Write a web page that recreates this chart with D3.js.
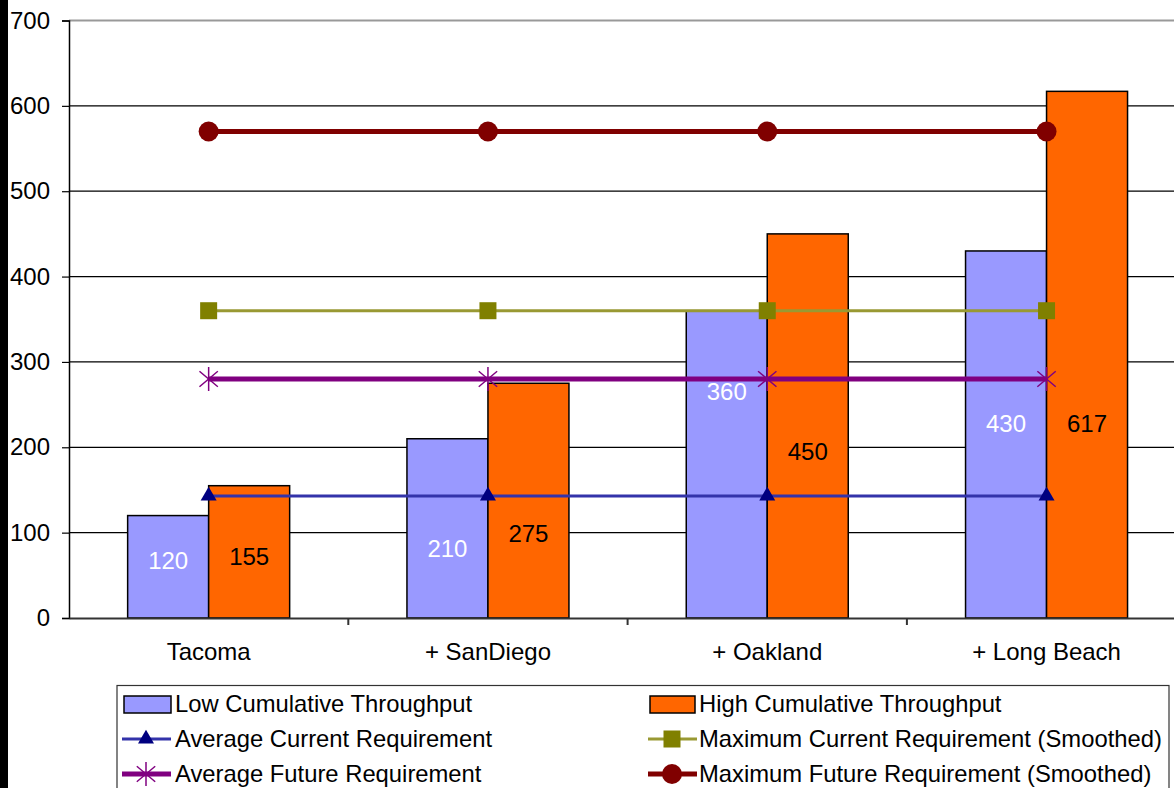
<!DOCTYPE html>
<html><head><meta charset="utf-8">
<script src="https://cdn.jsdelivr.net/npm/d3@7"></script>
<style>body{margin:0;background:#fff;} svg{display:block;font-family:"Liberation Sans",Arial,sans-serif;}</style>
</head><body>
<svg id="c" width="1174" height="788"></svg>
<script>
const categories = ["Tacoma", "+ SanDiego", "+ Oakland", "+ Long Beach"];
const lowThroughput = [120, 210, 360, 430];
const highThroughput = [155, 275, 450, 617];
const lowLabelAt = [67, 81, 265, 227];
const highLabelAt = [71, 98, 195, 227];
const avgCurrent = [143, 143, 143, 143];
const maxCurrent = [360, 360, 360, 360];
const avgFuture = [280, 280, 280, 280];
const maxFuture = [570, 570, 570, 570];
const yTicks = [0, 100, 200, 300, 400, 500, 600, 700];

const svg = d3.select("#c");
svg.append("rect").attr("x",0).attr("y",0).attr("width",8).attr("height",788).attr("fill","#000");

const pLeft = 69, pTop = 20.5, pBottom = 618, pRight = 69 + 4*279.3;
const x = d3.scaleBand().domain(categories).range([pLeft, pRight]).paddingInner(0).paddingOuter(0);
const y = d3.scaleLinear().domain([0, 700]).range([pBottom, pTop]);
const cx = c => x(c) + x.bandwidth()/2;
const barW = 81;
const FONT = "Liberation Sans, Arial, sans-serif";

// gridlines
svg.append("g").selectAll("line").data(yTicks.filter(t=>t>0)).join("line")
  .attr("x1", pLeft).attr("x2", 1174).attr("y1", d=>y(d)).attr("y2", d=>y(d))
  .attr("stroke", d => d===700 ? "#999" : "#000").attr("stroke-width", d=>d===700?2:1.2);

// y axis
const yAx = svg.append("g").attr("transform", `translate(${pLeft},0)`)
  .call(d3.axisLeft(y).tickValues(yTicks).tickSize(7).tickPadding(4));
yAx.select(".domain").attr("stroke","#000").attr("stroke-width",1.5);
yAx.selectAll(".tick line").attr("stroke","#000").attr("stroke-width",1.2);
yAx.selectAll("text").attr("font-size",24).attr("fill","#000").attr("font-family",FONT).attr("x",-19);

// bars
const bars = svg.append("g");
bars.selectAll("rect.low").data(categories).join("rect").attr("class","low")
  .attr("x", d=>cx(d)-barW).attr("width", barW)
  .attr("y", (d,i)=>y(lowThroughput[i])).attr("height", (d,i)=>pBottom - y(lowThroughput[i]))
  .attr("fill","#9999ff").attr("stroke","#000").attr("stroke-width",1.5);
bars.selectAll("rect.high").data(categories).join("rect").attr("class","high")
  .attr("x", d=>cx(d)).attr("width", barW)
  .attr("y", (d,i)=>y(highThroughput[i])).attr("height", (d,i)=>pBottom - y(highThroughput[i]))
  .attr("fill","#ff6600").attr("stroke","#000").attr("stroke-width",1.5);

// x axis
const xAx = svg.append("g").attr("transform", `translate(0,${pBottom})`)
  .call(d3.axisBottom(x).tickSize(0).tickPadding(25));
xAx.select(".domain").attr("stroke","#333").attr("stroke-width",2);
xAx.selectAll("text").attr("font-size",24).attr("fill","#000").attr("font-family",FONT);
svg.append("g").selectAll("line").data(categories.slice(1)).join("line")
  .attr("x1", d=>x(d)).attr("x2", d=>x(d)).attr("y1", pBottom).attr("y2", pBottom+7)
  .attr("stroke","#333").attr("stroke-width",2);

// lines
const line = d3.line().x(d=>cx(d[0])).y(d=>y(d[1]));
const series = [
  {vals: avgCurrent, color: "#3333aa", width: 3, marker: "triangle", mcolor: "#000080"},
  {vals: maxCurrent, color: "#999933", width: 3, marker: "square", mcolor: "#808000"},
  {vals: avgFuture, color: "#800080", width: 5, marker: "star", mcolor: "#800080"},
  {vals: maxFuture, color: "#800000", width: 5, marker: "circle", mcolor: "#800000"}
];
function drawMarker(g, type, color, px, py, s) {
  if (type === "triangle") {
    g.append("path").attr("d", d3.symbol(d3.symbolTriangle, s*s*0.433)()).attr("transform",`translate(${px},${py})`).attr("fill",color);
  } else if (type === "square") {
    g.append("rect").attr("x",px-s/2).attr("y",py-s/2).attr("width",s).attr("height",s).attr("fill",color);
  } else if (type === "circle") {
    g.append("circle").attr("cx",px).attr("cy",py).attr("r",s/2).attr("fill",color);
  } else if (type === "star") {
    const r = s/2, dx = r*Math.cos(40*Math.PI/180), dy = r*Math.sin(40*Math.PI/180);
    g.append("line").attr("x1",px-dx).attr("y1",py-dy).attr("x2",px+dx).attr("y2",py+dy).attr("stroke",color).attr("stroke-width",1.5);
    g.append("line").attr("x1",px-dx).attr("y1",py+dy).attr("x2",px+dx).attr("y2",py-dy).attr("stroke",color).attr("stroke-width",1.5);
    g.append("line").attr("x1",px).attr("y1",py-r).attr("x2",px).attr("y2",py+r).attr("stroke",color).attr("stroke-width",1.5);
  }
}
const markerSize = {triangle: 16, square: 17, star: 24, circle: 20};
series.forEach(s=>{
  const g = svg.append("g");
  g.append("path").datum(categories.map((c,i)=>[c, s.vals[i]])).attr("d", line)
    .attr("fill","none").attr("stroke", s.color).attr("stroke-width", s.width);
  categories.forEach((c,i)=>drawMarker(g, s.marker, s.mcolor, cx(c), y(s.vals[i]), markerSize[s.marker]));
});

// labels
const lbl = svg.append("g").attr("font-size",24).attr("text-anchor","middle");
categories.forEach((c,i)=>{
  lbl.append("text").attr("x", cx(c)-barW/2).attr("y", y(lowLabelAt[i])+8).attr("fill","#fff").text(lowThroughput[i]);
  lbl.append("text").attr("x", cx(c)+barW/2).attr("y", y(highLabelAt[i])+8).attr("fill","#000").text(highThroughput[i]);
});

// legend
const lg = svg.append("g");
lg.append("rect").attr("x",117).attr("y",685.5).attr("width",1052).attr("height",110).attr("fill","#fff").attr("stroke","#333").attr("stroke-width",1.2);
const legendItems = [
  {label:"Low Cumulative Throughput", type:"bar", fill:"#9999ff"},
  {label:"High Cumulative Throughput", type:"bar", fill:"#ff6600"},
  {label:"Average Current Requirement", type:"line", s: series[0]},
  {label:"Maximum Current Requirement (Smoothed)", type:"line", s: series[1]},
  {label:"Average Future Requirement", type:"line", s: series[2]},
  {label:"Maximum Future Requirement (Smoothed)", type:"line", s: series[3]}
];
legendItems.forEach((it,i)=>{
  const col = i%2, row = Math.floor(i/2);
  const sx = col===0 ? 124 : 650, tx = col===0 ? 175 : 699;
  const ry = 704 + row*35;
  if (it.type==="bar") {
    lg.append("rect").attr("x",sx).attr("y",ry-8).attr("width",col===0?47:45).attr("height",17).attr("fill",it.fill).attr("stroke","#000").attr("stroke-width",1.5);
  } else {
    lg.append("line").attr("x1",sx-2).attr("x2",sx+47).attr("y1",ry).attr("y2",ry).attr("stroke",it.s.color).attr("stroke-width",it.s.width);
    drawMarker(lg, it.s.marker, it.s.mcolor, sx+22, ry, markerSize[it.s.marker]);
  }
  lg.append("text").attr("x",tx).attr("y",ry+8).attr("font-size",23.8).attr("fill","#000").text(it.label);
});
</script>
</body></html>
